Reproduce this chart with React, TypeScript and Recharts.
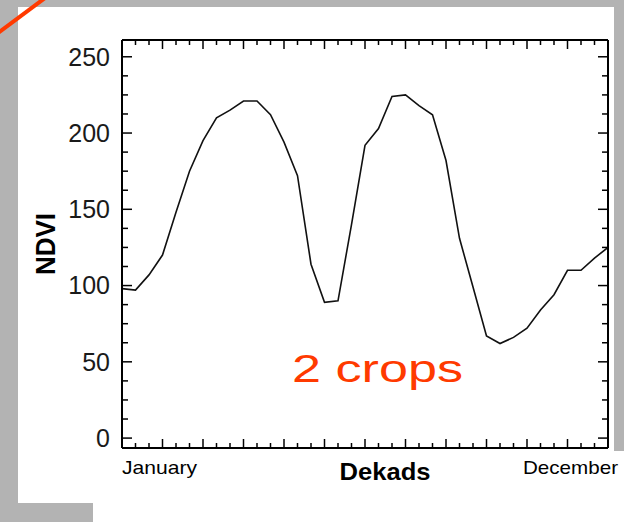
import { LineChart, Line, XAxis, YAxis } from "recharts";

// NDVI profile, one value per dekad (0 = start of January, 36 = end of December)
const dekads = [
  0, 1, 2, 3, 4, 5, 6, 7, 8, 9, 10, 11, 12, 13, 14, 15, 16, 17, 18, 19, 20, 21,
  22, 23, 24, 25, 26, 27, 28, 29, 30, 31, 32, 33, 34, 35, 36,
];
const ndvi = [
  98, 97, 107, 120, 148, 175, 195, 210, 215, 221, 221, 212, 194, 172, 114, 89,
  90, 140, 192, 203, 224, 225, 218, 212, 182, 131, 99, 67, 62, 66, 72, 84, 94,
  110, 110, 118, 125,
];

const monthLabels = ["January", "December"];
const monthTicks = [0, 36];
const xMinorTicks = dekads;
const xMajorTicks = [0, 3, 6, 9, 12, 15, 18, 21, 24, 27, 30, 33, 36];
const yMajorTicks = [0, 50, 100, 150, 200, 250];
const yMinorTicks = [
  0, 12.5, 25, 37.5, 50, 62.5, 75, 87.5, 100, 112.5, 125, 137.5, 150, 162.5,
  175, 187.5, 200, 212.5, 225, 237.5, 250,
];
const xDomain = [0, 36];
const yDomain = [-6.5, 261];

const data = dekads.map((d, i) => ({ dekad: d, ndvi: ndvi[i] }));

const FONT = '"Liberation Sans", Arial, Helvetica, sans-serif';
const frameLine = { stroke: "#000", strokeWidth: 2 };

function MonthTick(props: any) {
  const { x, y, index } = props;
  const last = index === monthTicks.length - 1;
  return (
    <text
      x={last ? x + 10 : x}
      y={y + 26}
      textAnchor={last ? "end" : "start"}
      fontFamily={FONT}
      fontSize={19}
      fill="#000"
      textLength={last ? 95 : 75}
      lengthAdjust="spacingAndGlyphs"
    >
      {monthLabels[index]}
    </text>
  );
}

function DekadsLabel(props: any) {
  const vb = props.viewBox || { x: 122, y: 448, width: 486, height: 74 };
  return (
    <text
      x={vb.x + vb.width / 2 + 20}
      y={vb.y + 32}
      textAnchor="middle"
      fontFamily={FONT}
      fontWeight="bold"
      fontSize={24}
      fill="#000"
      textLength={91}
      lengthAdjust="spacingAndGlyphs"
    >
      Dekads
    </text>
  );
}

function NdviLabel(props: any) {
  const vb = props.viewBox || { x: 0, y: 40, width: 122, height: 408 };
  const cx = vb.x + 55;
  const cy = vb.y + vb.height / 2;
  return (
    <text
      x={cx}
      y={cy}
      transform={`rotate(-90, ${cx}, ${cy})`}
      textAnchor="middle"
      fontFamily={FONT}
      fontWeight="bold"
      fontSize={27}
      fill="#000"
      textLength={62}
      lengthAdjust="spacingAndGlyphs"
    >
      NDVI
    </text>
  );
}

// inward tick marks: major ticks longer than minor ones
function makeTickMark(side: "top" | "bottom" | "left" | "right", majors: number[], major: number, minor: number) {
  return (props: any) => {
    const { x, y, payload } = props;
    const len = majors.includes(payload.value) ? major : minor;
    let x2 = x;
    let y2 = y;
    if (side === "bottom") y2 = y - len;
    if (side === "top") y2 = y + len;
    if (side === "left") x2 = x + len;
    if (side === "right") x2 = x - len;
    return <line x1={x} y1={y} x2={x2} y2={y2} stroke="#000" strokeWidth={1.5} />;
  };
}

function frameXAxis(side: "top" | "bottom") {
  return (
    <XAxis
      key={side}
      xAxisId={side}
      type="number"
      orientation={side}
      domain={xDomain}
      allowDataOverflow
      ticks={xMinorTicks}
      interval={0}
      mirror
      height={1}
      tickSize={0}
      tickMargin={0}
      tickLine={false}
      tick={makeTickMark(side, xMajorTicks, 9, 5)}
      axisLine={frameLine}
    />
  );
}

function frameYAxis(side: "left" | "right") {
  return (
    <YAxis
      key={side}
      yAxisId={side}
      type="number"
      orientation={side}
      domain={yDomain}
      allowDataOverflow
      ticks={yMinorTicks}
      interval={0}
      mirror
      width={1}
      tickSize={0}
      tickMargin={0}
      tickLine={false}
      tick={makeTickMark(side, yMajorTicks, 10, 6)}
      axisLine={frameLine}
    />
  );
}

export default function App() {
  return (
    <div
      style={{
        position: "absolute",
        left: 0,
        top: 0,
        width: 624,
        height: 522,
        background: "#b3b3b3",
        overflow: "hidden",
      }}
    >
      <div style={{ position: "absolute", left: 18, top: 7, width: 596, height: 496, background: "#fff" }} />
      <div style={{ position: "absolute", left: 93, top: 451, width: 531, height: 71, background: "#fff" }} />
      <div style={{ position: "absolute", left: 0, top: 0 }}>
        <LineChart
          width={624}
          height={522}
          data={data}
          margin={{ top: 40, right: 16, bottom: 0, left: 0 }}
        >
          <XAxis
            xAxisId="main"
            type="number"
            dataKey="dekad"
            domain={xDomain}
            allowDataOverflow
            ticks={monthTicks}
            interval={0}
            height={74}
            axisLine={false}
            tickLine={false}
            tickSize={0}
            tickMargin={0}
            tick={<MonthTick />}
            label={<DekadsLabel />}
          />
          <YAxis
            yAxisId="main"
            type="number"
            domain={yDomain}
            allowDataOverflow
            ticks={yMajorTicks}
            interval={0}
            width={122}
            axisLine={false}
            tickLine={false}
            tickSize={0}
            tickMargin={12}
            tick={{ fontFamily: FONT, fontSize: 25, fill: "#1a1a1a" }}
            label={<NdviLabel />}
          />
          {frameXAxis("bottom")}
          {frameXAxis("top")}
          {frameYAxis("left")}
          {frameYAxis("right")}
          <Line
            xAxisId="main"
            yAxisId="main"
            type="linear"
            dataKey="ndvi"
            stroke="#111"
            strokeWidth={1.6}
            dot={false}
            isAnimationActive={false}
          />
        </LineChart>
      </div>
      <svg
        width={624}
        height={522}
        style={{ position: "absolute", left: 0, top: 0, pointerEvents: "none" }}
      >
        <line x1={-2} y1={33} x2={45} y2={-2} stroke="#ff3a00" strokeWidth={4} />
        <text
          x={292}
          y={382}
          fontFamily={FONT}
          fontSize={39}
          fill="#ff3a00"
          textLength={171}
          lengthAdjust="spacingAndGlyphs"
        >
          2 crops
        </text>
      </svg>
    </div>
  );
}
